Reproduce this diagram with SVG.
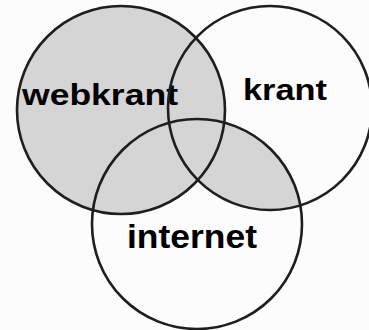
<svg xmlns="http://www.w3.org/2000/svg" width="369" height="330" viewBox="0 0 369 330">
  <defs>
    <clipPath id="clipBottom">
      <circle cx="197" cy="224" r="105"/>
    </clipPath>
  </defs>
  <style>
    .ring { fill: none; stroke: #1e1e1e; stroke-width: 2.6; }
    .shade { fill: #d5d5d5; }
    .label { font-family: "Liberation Sans", Arial, sans-serif; font-weight: bold; fill: #000; }
  </style>
  <rect x="0" y="0" width="369" height="330" fill="#fcfcfc"/>
  <g id="shading">
    <circle class="shade" cx="121" cy="110" r="104"/>
    <circle class="shade" cx="270" cy="108" r="102" clip-path="url(#clipBottom)"/>
  </g>
  <g id="webkrant">
    <circle class="ring" cx="121" cy="110" r="104"/>
    <text class="label" x="22" y="105" font-size="29" textLength="156" lengthAdjust="spacingAndGlyphs">webkrant</text>
  </g>
  <g id="krant">
    <circle class="ring" cx="270" cy="108" r="102"/>
    <text class="label" x="243" y="100" font-size="29" textLength="84" lengthAdjust="spacingAndGlyphs">krant</text>
  </g>
  <g id="internet">
    <circle class="ring" cx="197" cy="224" r="105"/>
    <text class="label" x="127" y="248" font-size="33" textLength="130" lengthAdjust="spacingAndGlyphs">internet</text>
  </g>
  <g id="connectors"/>
</svg>
